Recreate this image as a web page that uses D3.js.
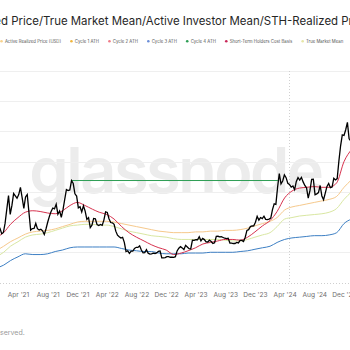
<!DOCTYPE html>
<html>
<head>
<meta charset="utf-8">
<script src="https://cdn.jsdelivr.net/npm/d3@7"></script>
<style>
  html, body { margin: 0; padding: 0; background: #fff; }
  svg { display: block; font-family: Inter, "Noto Sans", sans-serif; }
</style>
</head>
<body>
<script>
// weekly BTC close (USD, thousands), starting 2021-01-03
const priceStart = "2021-01-03";
const priceWeekly = [
  33.0, 38.2, 35.8, 32.3, 33.1, 39.3, 48.6, 57.5, 45.1, 51.0, 59.0, 57.4, 55.8,
  58.2, 63.0, 56.2, 49.0, 56.6, 58.2, 46.4, 34.7, 35.7, 35.8, 39.1, 35.6, 34.7,
  35.3, 34.2, 31.8, 35.4, 39.9, 43.8, 47.0, 49.3, 48.8, 51.8, 45.2, 47.3, 43.2,
  48.2, 55.0, 61.5, 60.9, 61.3, 67.5, 65.5, 58.7, 57.2, 49.4, 50.1, 46.7, 50.8,
  // 2022
  47.3, 41.8, 43.0, 36.3, 37.9, 42.4, 42.2, 38.3, 37.7, 38.4, 37.8, 41.3, 46.8,
  46.4, 42.2, 39.7, 39.5, 38.5, 34.0, 31.3, 30.3, 29.4, 29.9, 26.6, 20.5, 21.0,
  19.3, 20.8, 20.8, 22.6, 23.3, 23.2, 24.3, 21.5, 19.6, 19.8, 21.8, 19.4, 18.8,
  19.0, 19.4, 19.2, 19.6, 20.6, 20.9, 16.3, 16.3, 16.5, 17.1, 17.1, 16.7, 16.8,
  // 2023
  16.6, 17.1, 20.9, 22.7, 23.7, 22.9, 21.8, 24.6, 23.5, 22.4, 22.2, 28.0, 27.9,
  28.4, 28.3, 30.3, 27.6, 29.2, 28.4, 26.9, 26.8, 28.0, 27.1, 25.9, 26.3, 30.5,
  30.6, 30.2, 30.3, 29.8, 29.3, 29.0, 29.3, 26.1, 26.0, 25.8, 25.8, 26.5, 26.2,
  27.9, 27.9, 27.1, 30.0, 34.5, 35.0, 37.0, 37.4, 37.5, 39.9, 43.8, 41.3, 43.0, 42.3,
  // 2024
  43.9, 41.8, 41.6, 42.0, 42.6, 48.3, 52.1, 51.7, 63.1, 72.1, 65.3, 67.2, 71.3,
  69.4, 65.7, 64.9, 63.1, 63.9, 61.5, 66.9, 69.4, 67.8, 69.6, 66.6, 64.2, 62.7,
  55.9, 60.8, 68.2, 68.3, 58.1, 58.7, 59.5, 64.2, 57.3, 54.8, 59.2, 63.6, 65.6,
  62.8, 63.2, 69.0, 67.9, 68.8, 80.4, 90.5, 97.7, 97.3, 101.1, 106.0, 95.1, 93.7,
  98.3, 94.5
];

// monthly on-chain cost bases (USD, thousands), starting 2021-01-01
const monthStart = "2021-01-01";
const sthCostBasis = [
  30, 33, 38.5, 43, 46.5, 47.5, 47, 46, 45.5, 47.5, 51, 53,
  51, 48.5, 46.5, 45, 42, 37, 33, 30, 27.5, 25, 23, 21.5,
  18.5, 19.5, 21, 23, 25.5, 26.5, 27.5, 28.5, 28.5, 28, 30, 33.5,
  37.5, 41, 47, 56, 60.5, 62.5, 63, 63.5, 63, 63, 66, 80, 88
];
const activeRealizedPrice = [
  21, 24, 27, 29.5, 32, 33.5, 34, 34.5, 35.5, 37, 38.5, 40,
  40.5, 40.5, 40.5, 40.5, 40, 39, 38, 37, 36, 35, 34, 33.5,
  33, 33, 33, 33.5, 33.5, 34, 34, 34.5, 34.5, 35, 36, 37.5,
  39, 40.5, 43, 48, 50, 51, 52, 53, 54, 55, 57, 63, 68
];
const trueMarketMean = [
  17, 20, 24, 27, 30, 31.5, 32, 33, 34.5, 36, 37.5, 38,
  38.5, 38.5, 38, 38, 37, 35.5, 34, 33, 32, 31, 30.5, 30,
  29, 28.5, 28.5, 28.5, 28.5, 28.5, 28.5, 28, 27.5, 27.5, 28.5, 30,
  31.5, 33, 37, 42, 43, 44, 44.5, 45, 45.5, 46.5, 49, 55, 60
];
const realizedPrice = [
  9.5, 11.5, 14.5, 17, 19, 18.5, 18.5, 19, 20.5, 21.5, 23, 23.5,
  23.5, 23.5, 23.5, 23.5, 23.5, 22.5, 21.5, 21, 20.5, 20.5, 19.5, 19,
  19, 19, 19.5, 19.5, 19.5, 20, 20, 20, 20, 20.5, 21, 22,
  23, 24, 26.5, 28.5, 29.5, 30, 30.5, 31, 31, 31.5, 33, 39, 42
];

// cycle 4 ATH line
const cycle4Ath = { value: 67.5, from: "2021-11-08", to: "2024-03-04" };
const halvingDate = "2024-04-20";

const xTickDates = ["2021-04-01", "2021-08-01", "2021-12-01", "2022-04-01", "2022-08-01", "2022-12-01",
  "2023-04-01", "2023-08-01", "2023-12-01", "2024-04-01", "2024-08-01", "2024-12-01"];
const xTickLabels = ["Apr '21", "Aug '21", "Dec '21", "Apr '22", "Aug '22", "Dec '22",
  "Apr '23", "Aug '23", "Dec '23", "Apr '24", "Aug '24", "Dec '24"];
const yTicks = [0, 20, 40, 60, 80, 100, 120, 140];

const legendNames = ["Price (USD)", "Realized Price (USD)", "Active Realized Price (USD)", "Cycle 1 ATH", "Cycle 2 ATH",
  "Cycle 3 ATH", "Cycle 4 ATH", "Short-Term Holders Cost Basis", "True Market Mean"];
const legendColors = ["#111111", "#3d7fc4", "#f8d28c", "#f0b53c", "#ef7b88", "#6b8ed8", "#2e9e55", "#c8285a", "#e6e6a6"];

const titleText = "Bitcoin: Realized Price/True Market Mean/Active Investor Mean/STH-Realized Price";
const footerText = "\u00a9 2025 Glassnode. All Rights Reserved.";

const width = 350;
const height = 350;

window.onload = main;

function main() {
    const parse = d3.utcParse("%Y-%m-%d");

    const svg = d3.select("body")
        .append("svg")
        .attr("width", width)
        .attr("height", height);

    const x = d3.scaleUtc()
        .domain([parse(xTickDates[0]), parse(xTickDates[xTickDates.length - 1])])
        .range([18, 344]);
    const y = d3.scaleLinear()
        .domain([0, 140])
        .range([282.5, 71]);

    // title, clipped on both sides like the source crop
    const title = svg.append("text")
        .attr("y", 25)
        .attr("font-size", 13)
        .attr("fill", "#262626")
        .text(titleText);
    const cut = titleText.indexOf("d Price");
    const cutEnd = titleText.lastIndexOf("P") + 1;
    const seen = title.node().getSubStringLength(cut, cutEnd - cut);
    title.attr("font-size", 13 * 348 / seen);
    title.attr("x", 1 - title.node().getSubStringLength(0, cut));

    // legend
    const gLegend = svg.append("g").attr("font-size", 4.3).attr("fill", "#555");
    let pos = 0;
    const offsets = [];
    legendNames.forEach((name, i) => {
        offsets.push(pos);
        const t = gLegend.append("text").text(name).attr("y", 42.6);
        pos += 3.4 + t.node().getComputedTextLength() + 10.4;
    });
    const shift = 1.5 - offsets[2];
    gLegend.selectAll("text").attr("x", (d, i) => offsets[i] + shift + 3.4);
    gLegend.selectAll("circle")
        .data(legendNames)
        .join("circle")
        .attr("cx", (d, i) => offsets[i] + shift)
        .attr("cy", 41.2)
        .attr("r", 1.3)
        .attr("fill", (d, i) => legendColors[i]);

    // watermark
    svg.append("text")
        .attr("x", 175.5)
        .attr("y", 193)
        .attr("text-anchor", "middle")
        .attr("font-size", 63)
        .attr("font-weight", 600)
        .attr("letter-spacing", -2.5)
        .attr("fill", "#ececec")
        .text("glassnode");

    // grid
    svg.append("g")
        .selectAll("line")
        .data(yTicks.slice(1))
        .join("line")
        .attr("x1", 0).attr("x2", width)
        .attr("y1", d => Math.round(y(d)) + 0.5)
        .attr("y2", d => Math.round(y(d)) + 0.5)
        .attr("stroke", "#efefef");

    svg.append("line")
        .attr("x1", 0).attr("x2", width)
        .attr("y1", Math.round(y(0)) + 0.5).attr("y2", Math.round(y(0)) + 0.5)
        .attr("stroke", "#cfcfcf")
        .attr("stroke-dasharray", "1,2");

    const hx = Math.round(x(parse(halvingDate))) + 0.5;
    svg.append("line")
        .attr("x1", hx).attr("x2", hx)
        .attr("y1", y(140)).attr("y2", y(0))
        .attr("stroke", "#d0d0d0")
        .attr("stroke-dasharray", "1,2");

    // x axis labels
    const xAxis = d3.axisBottom(x)
        .tickValues(xTickDates.map(parse))
        .tickFormat((d, i) => xTickLabels[i])
        .tickSize(0)
        .tickPadding(0);
    const gx = svg.append("g")
        .attr("transform", `translate(0, 292)`)
        .call(xAxis);
    gx.select(".domain").remove();
    gx.selectAll("text")
        .attr("font-family", "Inter, 'Noto Sans', sans-serif")
        .attr("font-size", 6.6)
        .attr("fill", "#6f6f6f")
        .attr("dy", "0.71em");

    // lines
    const months = sthCostBasis.map((d, i) => d3.utcMonth.offset(parse(monthStart), i));
    const smooth = d3.line()
        .x((d, i) => x(months[i]))
        .y(d => y(d))
        .curve(d3.curveMonotoneX);

    const gLines = svg.append("g").attr("fill", "none");
    gLines.append("path").attr("d", smooth(realizedPrice)).attr("stroke", "#3d7fc4").attr("stroke-width", 1);
    gLines.append("path").attr("d", smooth(trueMarketMean)).attr("stroke", "#d9e7a2").attr("stroke-width", 1);
    gLines.append("path").attr("d", smooth(activeRealizedPrice)).attr("stroke", "#f6c98c").attr("stroke-width", 1);

    gLines.append("line")
        .attr("x1", x(parse(cycle4Ath.from))).attr("x2", x(parse(cycle4Ath.to)))
        .attr("y1", y(cycle4Ath.value)).attr("y2", y(cycle4Ath.value))
        .attr("stroke", "#2e9e55").attr("stroke-width", 1);

    gLines.append("path").attr("d", smooth(sthCostBasis)).attr("stroke", "#d7334f").attr("stroke-width", 1);

    const weeks = priceWeekly.map((d, i) => d3.utcDay.offset(parse(priceStart), 7 * i));
    const priceLine = d3.line()
        .x((d, i) => x(weeks[i]))
        .y(d => y(d));
    gLines.append("path").attr("d", priceLine(priceWeekly)).attr("stroke", "#000").attr("stroke-width", 1.3);

    // footer, clipped
    const footer = svg.append("text")
        .attr("y", 335)
        .attr("font-size", 7)
        .attr("fill", "#9a9a9a")
        .text(footerText);
    const fcut = footerText.indexOf("served.");
    footer.attr("x", 0 - footer.node().getSubStringLength(0, fcut));
}
</script>
</body>
</html>
